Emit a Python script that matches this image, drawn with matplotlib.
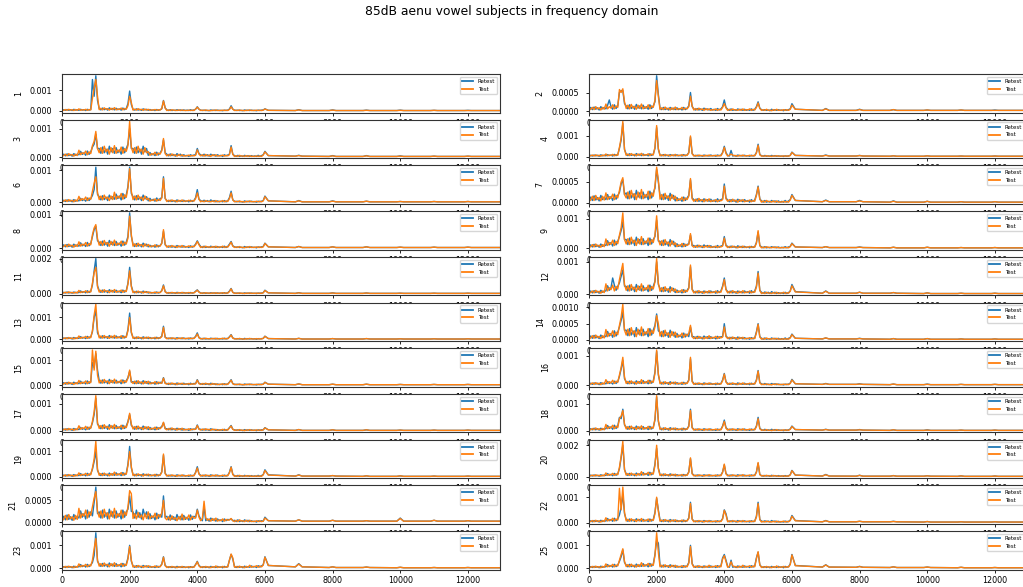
import matplotlib
matplotlib.use("Agg")
import matplotlib.pyplot as plt
from matplotlib.ticker import MultipleLocator
import numpy as np

TITLE = "85dB aenu vowel subjects in frequency domain"
SERIES_NAMES = ["Retest", "Test"]
XTICKS = [0, 2000, 4000, 6000, 8000, 10000, 12000]

# Frequency bins (Hz) shared by every spectrum
FREQ_HZ = [0, 50, 100, 150, 200, 250, 300, 350, 400, 450, 500, 550, 600, 650, 700, 750, 800, 850, 900, 950,
           1000, 1050, 1100, 1150, 1200, 1250, 1300, 1350, 1400, 1450, 1500, 1550, 1600, 1650, 1700, 1750, 1800, 1850, 1900, 1950,
           2000, 2050, 2100, 2150, 2200, 2250, 2300, 2350, 2400, 2450, 2500, 2550, 2600, 2650, 2700, 2750, 2800, 2850, 2900, 2950,
           3000, 3050, 3100, 3150, 3200, 3250, 3300, 3350, 3400, 3450, 3500, 3550, 3600, 3650, 3700, 3750, 3800, 3850, 3900, 3950,
           4000, 4050, 4100, 4150, 4200, 4250, 4300, 4350, 4400, 4450, 4500, 4550, 4600, 4650, 4700, 4750, 4800, 4850, 4900, 4950,
           5000, 5050, 5100, 5150, 5200, 5250, 5300, 5350, 5400, 5450, 5500, 5550, 5600, 5650, 5700, 5750, 5800, 5850, 5900, 5950,
           6000, 6100, 6900, 7000, 7100, 7900, 8000, 8100, 8900, 9000, 9100,
           9900, 10000, 10100, 10900, 11000, 11100, 11900, 12000, 12100, 13000]

# Spectral magnitudes in units of 1e-5
AMP_UNIT = 1e-5

S01_RETEST = [2, 6, 3, 7, 3, 6, 2, 8, 4, 6, 3, 8, 4, 6, 2, 8, 4, 7, 150, 70,
              168, 50, 12, 5, 14, 6, 11, 4, 15, 7, 12, 5, 13, 6, 10, 4, 14, 6, 12, 35,
              95, 30, 8, 4, 10, 4, 8, 3, 10, 5, 8, 3, 7, 3, 5, 2, 7, 3, 6, 10,
              50, 15, 5, 2, 6, 2, 4, 2, 6, 3, 5, 2, 5, 2, 4, 2, 6, 2, 5, 8,
              20, 8, 4, 2, 4, 2, 3, 1, 5, 2, 4, 2, 4, 2, 3, 1, 4, 2, 4, 9,
              25, 9, 4, 2, 4, 2, 3, 1, 5, 2, 4, 2, 4, 2, 3, 1, 4, 2, 4, 5,
              10, 3, 2, 6, 2, 2, 5, 2, 2, 4, 2, 2, 4, 2, 2, 3, 2, 2, 3, 2, 2]
S01_TEST = [3, 3, 7, 3, 8, 4, 6, 2, 7, 3, 10, 3, 6, 4, 8, 3, 7, 5, 60, 110,
            150, 70, 6, 13, 5, 15, 7, 11, 4, 13, 6, 16, 5, 10, 7, 14, 5, 12, 8, 25,
            70, 40, 4, 9, 4, 11, 5, 8, 3, 9, 4, 8, 3, 5, 4, 7, 3, 6, 4, 12,
            48, 14, 2, 5, 2, 6, 3, 4, 2, 5, 2, 5, 2, 3, 2, 4, 2, 4, 2, 9,
            18, 9, 2, 4, 2, 5, 2, 3, 1, 4, 2, 5, 2, 3, 2, 4, 2, 4, 2, 7,
            20, 8, 2, 4, 2, 5, 2, 3, 1, 4, 2, 5, 2, 3, 2, 4, 2, 4, 2, 4,
            9, 3, 2, 5, 2, 2, 4, 2, 2, 3, 2, 2, 3, 2, 2, 3, 2, 2, 2, 2, 2]

S02_RETEST = [2, 10, 4, 11, 5, 9, 3, 12, 6, 10, 6, 16, 30, 12, 5, 17, 7, 14, 50, 55,
              55, 20, 14, 6, 17, 7, 13, 5, 18, 8, 14, 6, 16, 7, 12, 5, 17, 7, 14, 25,
              95, 45, 8, 4, 10, 4, 8, 3, 10, 5, 8, 4, 9, 4, 7, 3, 10, 4, 8, 14,
              50, 12, 6, 3, 7, 3, 6, 2, 8, 4, 6, 3, 7, 3, 5, 2, 7, 3, 6, 12,
              30, 10, 5, 2, 6, 2, 4, 2, 6, 3, 5, 2, 5, 2, 4, 2, 6, 2, 5, 12,
              25, 8, 4, 2, 4, 2, 3, 1, 5, 2, 4, 2, 4, 2, 3, 1, 4, 2, 4, 6,
              20, 5, 2, 7, 2, 2, 5, 2, 2, 4, 2, 2, 3, 2, 2, 3, 2, 2, 3, 2, 2]
S02_TEST = [3, 5, 10, 4, 12, 6, 9, 3, 10, 5, 19, 6, 12, 8, 17, 6, 14, 10, 58, 50,
            60, 25, 7, 16, 6, 18, 8, 13, 5, 16, 7, 19, 6, 12, 8, 17, 6, 14, 10, 30,
            82, 40, 4, 9, 4, 11, 5, 8, 3, 9, 4, 11, 4, 7, 5, 10, 4, 8, 6, 12,
            40, 14, 3, 7, 3, 8, 4, 6, 2, 7, 3, 6, 2, 4, 3, 6, 2, 5, 3, 10,
            20, 9, 2, 5, 2, 6, 3, 4, 2, 5, 2, 6, 2, 4, 3, 6, 2, 5, 3, 10,
            22, 7, 2, 4, 2, 5, 2, 3, 1, 4, 2, 5, 2, 3, 2, 4, 2, 4, 2, 5,
            16, 5, 2, 6, 2, 2, 4, 2, 2, 4, 2, 2, 3, 2, 2, 3, 2, 2, 2, 2, 2]

S03_RETEST = [3, 10, 4, 11, 5, 9, 3, 12, 6, 10, 8, 20, 9, 15, 6, 21, 9, 18, 35, 45,
              80, 30, 30, 13, 35, 15, 28, 10, 38, 18, 30, 13, 33, 15, 25, 10, 35, 15, 30, 45,
              100, 30, 30, 13, 35, 15, 28, 10, 38, 18, 30, 6, 16, 7, 12, 5, 17, 7, 14, 25,
              60, 15, 10, 4, 11, 5, 9, 3, 12, 6, 10, 3, 8, 4, 6, 2, 8, 4, 7, 8,
              30, 12, 8, 4, 10, 4, 8, 3, 10, 5, 8, 3, 8, 4, 6, 2, 8, 4, 7, 10,
              40, 10, 5, 2, 6, 2, 4, 2, 6, 3, 5, 2, 5, 2, 4, 2, 6, 2, 5, 8,
              20, 5, 3, 6, 3, 2, 5, 2, 2, 5, 2, 2, 4, 2, 2, 3, 2, 2, 3, 2, 2]
S03_TEST = [4, 5, 10, 4, 12, 6, 9, 3, 10, 5, 24, 8, 15, 11, 21, 8, 18, 12, 40, 55,
            90, 30, 15, 33, 13, 38, 18, 28, 10, 33, 15, 40, 13, 25, 18, 35, 13, 30, 20, 40,
            125, 35, 15, 33, 13, 38, 18, 28, 10, 33, 15, 19, 6, 12, 8, 17, 6, 14, 10, 22,
            65, 12, 4, 9, 4, 11, 5, 8, 3, 9, 4, 8, 3, 5, 4, 7, 3, 6, 4, 6,
            25, 10, 4, 8, 3, 9, 4, 7, 2, 8, 4, 8, 3, 5, 4, 7, 3, 6, 4, 8,
            35, 9, 2, 5, 2, 6, 3, 4, 2, 5, 2, 5, 2, 3, 2, 4, 2, 4, 2, 7,
            18, 5, 3, 5, 3, 2, 4, 2, 2, 4, 2, 2, 3, 2, 2, 3, 2, 2, 3, 2, 2]

S04_RETEST = [3, 7, 3, 8, 4, 7, 2, 9, 4, 7, 4, 10, 5, 8, 3, 11, 5, 10, 40, 80,
              160, 35, 12, 5, 14, 6, 11, 4, 15, 7, 12, 5, 13, 6, 10, 4, 14, 6, 12, 40,
              140, 35, 8, 4, 10, 4, 8, 3, 10, 5, 8, 4, 9, 4, 7, 3, 10, 4, 8, 20,
              95, 15, 6, 3, 7, 3, 6, 2, 8, 4, 6, 3, 8, 4, 6, 2, 8, 4, 7, 20,
              50, 20, 6, 3, 30, 3, 6, 2, 8, 4, 6, 3, 7, 3, 5, 2, 7, 3, 6, 20,
              60, 10, 5, 2, 6, 2, 4, 2, 6, 3, 5, 2, 4, 2, 3, 1, 4, 2, 4, 6,
              22, 6, 3, 8, 3, 3, 6, 3, 2, 4, 2, 2, 4, 2, 2, 3, 2, 2, 3, 2, 2]
S04_TEST = [4, 4, 8, 3, 9, 4, 7, 2, 8, 4, 13, 4, 8, 6, 11, 4, 10, 6, 45, 90,
            170, 35, 6, 13, 5, 15, 7, 11, 4, 13, 6, 16, 5, 10, 7, 14, 5, 12, 8, 45,
            150, 40, 4, 9, 4, 11, 5, 8, 3, 9, 4, 11, 4, 7, 5, 10, 4, 8, 6, 18,
            100, 14, 3, 7, 3, 8, 4, 6, 2, 7, 3, 8, 3, 5, 4, 7, 3, 6, 4, 18,
            45, 15, 3, 7, 12, 8, 4, 6, 2, 7, 3, 8, 3, 5, 4, 7, 3, 6, 4, 18,
            55, 9, 2, 4, 2, 5, 2, 3, 1, 4, 2, 5, 2, 3, 2, 4, 2, 4, 2, 6,
            20, 6, 3, 6, 3, 3, 5, 3, 2, 4, 2, 2, 4, 2, 2, 3, 2, 2, 3, 2, 2]

S06_RETEST = [3, 7, 3, 8, 4, 7, 2, 9, 4, 7, 5, 13, 6, 10, 4, 14, 6, 12, 22, 40,
              110, 25, 18, 8, 21, 9, 17, 6, 23, 11, 18, 10, 26, 12, 20, 8, 28, 12, 24, 50,
              110, 28, 18, 8, 21, 9, 17, 6, 23, 11, 18, 5, 13, 6, 10, 4, 14, 6, 12, 15,
              80, 12, 6, 3, 7, 3, 6, 2, 8, 4, 6, 3, 7, 3, 5, 2, 7, 3, 6, 15,
              40, 10, 6, 3, 7, 3, 6, 2, 8, 4, 6, 2, 5, 2, 4, 2, 6, 2, 5, 15,
              35, 8, 4, 2, 4, 2, 3, 1, 5, 2, 4, 2, 4, 2, 3, 1, 4, 2, 4, 6,
              20, 5, 2, 6, 2, 2, 5, 2, 2, 4, 2, 2, 3, 2, 2, 3, 2, 2, 3, 2, 2]
S06_TEST = [4, 4, 8, 3, 9, 4, 7, 2, 8, 4, 19, 6, 12, 8, 17, 6, 14, 10, 35, 60,
            80, 30, 9, 20, 8, 23, 11, 17, 6, 20, 9, 32, 10, 20, 14, 28, 10, 24, 16, 45,
            105, 35, 9, 20, 8, 23, 11, 17, 6, 20, 9, 13, 4, 8, 6, 11, 4, 10, 6, 14,
            75, 14, 3, 7, 3, 8, 4, 6, 2, 7, 3, 8, 3, 5, 4, 7, 3, 6, 4, 12,
            30, 10, 2, 5, 2, 6, 3, 4, 2, 5, 2, 6, 2, 4, 3, 6, 2, 5, 3, 12,
            30, 8, 2, 4, 2, 5, 2, 3, 1, 4, 2, 5, 2, 3, 2, 4, 2, 4, 2, 5,
            18, 5, 2, 5, 2, 2, 4, 2, 2, 4, 2, 2, 3, 2, 2, 3, 2, 2, 3, 2, 2]

S07_RETEST = [3, 14, 6, 17, 7, 13, 5, 18, 8, 14, 8, 20, 9, 15, 6, 21, 9, 18, 25, 45,
              55, 20, 24, 10, 28, 12, 22, 8, 30, 14, 24, 10, 26, 12, 20, 8, 28, 12, 24, 35,
              80, 50, 18, 8, 21, 9, 17, 6, 23, 11, 18, 5, 13, 6, 10, 4, 14, 6, 12, 18,
              55, 12, 8, 4, 10, 4, 8, 3, 10, 5, 8, 4, 9, 4, 7, 3, 10, 4, 8, 10,
              45, 12, 7, 3, 8, 4, 7, 2, 9, 4, 7, 3, 8, 4, 6, 2, 8, 4, 7, 20,
              40, 10, 5, 2, 6, 2, 4, 2, 6, 3, 5, 2, 5, 2, 4, 2, 6, 2, 5, 8,
              20, 6, 3, 7, 3, 3, 6, 3, 2, 5, 2, 2, 4, 2, 2, 3, 2, 2, 3, 2, 2]
S07_TEST = [4, 7, 16, 6, 18, 8, 13, 5, 16, 7, 24, 8, 15, 11, 21, 8, 18, 12, 30, 50,
            60, 20, 12, 26, 10, 30, 14, 22, 8, 26, 12, 32, 10, 20, 14, 28, 10, 24, 16, 40,
            85, 55, 9, 20, 8, 23, 11, 17, 6, 20, 9, 16, 5, 10, 7, 14, 5, 12, 8, 16,
            58, 10, 4, 9, 4, 11, 5, 8, 3, 9, 4, 10, 3, 6, 4, 8, 3, 7, 5, 8,
            40, 10, 4, 8, 3, 9, 4, 7, 2, 8, 4, 8, 3, 5, 4, 7, 3, 6, 4, 18,
            38, 9, 2, 5, 2, 6, 3, 4, 2, 5, 2, 5, 2, 3, 2, 4, 2, 4, 2, 7,
            18, 6, 3, 6, 3, 3, 5, 3, 2, 4, 2, 2, 4, 2, 2, 3, 2, 2, 3, 2, 2]

S08_RETEST = [3, 10, 4, 11, 5, 9, 3, 12, 6, 10, 6, 16, 7, 12, 5, 17, 7, 14, 35, 55,
              65, 22, 18, 8, 21, 9, 17, 6, 23, 11, 18, 8, 20, 9, 15, 6, 21, 9, 18, 35,
              105, 35, 12, 5, 14, 6, 11, 4, 15, 7, 12, 4, 9, 4, 7, 3, 10, 4, 8, 15,
              50, 10, 6, 3, 7, 3, 6, 2, 8, 4, 6, 3, 7, 3, 5, 2, 7, 3, 6, 12,
              22, 12, 5, 2, 6, 2, 4, 2, 6, 3, 5, 2, 5, 2, 4, 2, 6, 2, 5, 12,
              20, 7, 4, 2, 4, 2, 3, 1, 5, 2, 4, 2, 4, 2, 3, 1, 4, 2, 4, 5,
              15, 4, 2, 5, 2, 2, 4, 2, 2, 4, 2, 2, 3, 2, 2, 3, 2, 2, 3, 2, 2]
S08_TEST = [4, 5, 10, 4, 12, 6, 9, 3, 10, 5, 19, 6, 12, 8, 17, 6, 14, 10, 40, 60,
            70, 28, 9, 20, 8, 23, 11, 17, 6, 20, 9, 24, 8, 15, 11, 21, 8, 18, 12, 30,
            95, 40, 6, 13, 5, 15, 7, 11, 4, 13, 6, 11, 4, 7, 5, 10, 4, 8, 6, 14,
            55, 12, 3, 7, 3, 8, 4, 6, 2, 7, 3, 8, 3, 5, 4, 7, 3, 6, 4, 10,
            20, 10, 2, 5, 2, 6, 3, 4, 2, 5, 2, 6, 2, 4, 3, 6, 2, 5, 3, 10,
            18, 6, 2, 4, 2, 5, 2, 3, 1, 4, 2, 5, 2, 3, 2, 4, 2, 4, 2, 4,
            14, 4, 2, 5, 2, 2, 4, 2, 2, 4, 2, 2, 3, 2, 2, 3, 2, 2, 3, 2, 2]

S09_RETEST = [3, 12, 5, 14, 6, 11, 4, 15, 7, 12, 10, 26, 12, 20, 8, 28, 12, 24, 40, 60,
              90, 30, 30, 13, 35, 15, 28, 10, 38, 18, 30, 13, 33, 15, 25, 10, 35, 15, 30, 40,
              95, 25, 24, 10, 28, 12, 22, 8, 30, 14, 24, 6, 16, 7, 12, 5, 17, 7, 14, 15,
              45, 10, 10, 4, 11, 5, 9, 3, 12, 6, 10, 4, 9, 4, 7, 3, 10, 4, 8, 10,
              40, 10, 7, 3, 8, 4, 7, 2, 9, 4, 7, 3, 7, 3, 5, 2, 7, 3, 6, 20,
              55, 10, 5, 2, 6, 2, 4, 2, 6, 3, 5, 2, 5, 2, 4, 2, 6, 2, 5, 7,
              18, 5, 3, 6, 3, 3, 5, 3, 2, 4, 2, 2, 4, 2, 2, 3, 2, 2, 3, 2, 2]
S09_TEST = [4, 6, 13, 5, 15, 7, 11, 4, 13, 6, 32, 10, 20, 14, 28, 10, 24, 16, 45, 70,
            120, 30, 15, 33, 13, 38, 18, 28, 10, 33, 15, 40, 13, 25, 18, 35, 13, 30, 20, 45,
            110, 30, 12, 26, 10, 30, 14, 22, 8, 26, 12, 19, 6, 12, 8, 17, 6, 14, 10, 14,
            50, 9, 4, 9, 4, 11, 5, 8, 3, 9, 4, 10, 3, 6, 4, 8, 3, 7, 5, 8,
            35, 9, 3, 7, 3, 8, 4, 6, 2, 7, 3, 8, 3, 5, 4, 7, 3, 6, 4, 18,
            60, 9, 2, 5, 2, 6, 3, 4, 2, 5, 2, 5, 2, 3, 2, 4, 2, 4, 2, 6,
            16, 5, 3, 6, 3, 3, 4, 3, 2, 4, 2, 2, 4, 2, 2, 3, 2, 2, 3, 2, 2]

S11_RETEST = [3, 8, 4, 10, 4, 8, 3, 10, 5, 8, 6, 16, 7, 12, 5, 17, 7, 14, 50, 130,
              200, 45, 18, 8, 21, 9, 17, 6, 23, 11, 18, 8, 20, 9, 15, 6, 21, 9, 18, 60,
              150, 45, 12, 5, 14, 6, 11, 4, 15, 7, 12, 4, 9, 4, 7, 3, 10, 4, 8, 18,
              50, 12, 6, 3, 7, 3, 6, 2, 8, 4, 6, 3, 7, 3, 5, 2, 7, 3, 6, 14,
              22, 10, 5, 2, 6, 2, 4, 2, 6, 3, 5, 2, 5, 2, 4, 2, 6, 2, 5, 15,
              30, 8, 4, 2, 4, 2, 3, 1, 5, 2, 4, 2, 4, 2, 3, 1, 4, 2, 4, 6,
              20, 5, 2, 6, 2, 2, 5, 2, 2, 4, 2, 2, 3, 2, 2, 3, 2, 2, 3, 2, 2]
S11_TEST = [4, 4, 9, 4, 11, 5, 8, 3, 9, 4, 19, 6, 12, 8, 17, 6, 14, 10, 60, 120,
            150, 40, 9, 20, 8, 23, 11, 17, 6, 20, 9, 24, 8, 15, 11, 21, 8, 18, 12, 55,
            130, 40, 6, 13, 5, 15, 7, 11, 4, 13, 6, 11, 4, 7, 5, 10, 4, 8, 6, 16,
            45, 11, 3, 7, 3, 8, 4, 6, 2, 7, 3, 8, 3, 5, 4, 7, 3, 6, 4, 12,
            20, 9, 2, 5, 2, 6, 3, 4, 2, 5, 2, 6, 2, 4, 3, 6, 2, 5, 3, 12,
            28, 7, 2, 4, 2, 5, 2, 3, 1, 4, 2, 5, 2, 3, 2, 4, 2, 4, 2, 5,
            18, 5, 2, 5, 2, 2, 4, 2, 2, 4, 2, 2, 3, 2, 2, 3, 2, 2, 3, 2, 2]

S12_RETEST = [3, 10, 4, 11, 5, 9, 3, 12, 6, 10, 10, 26, 12, 20, 50, 28, 12, 24, 35, 55,
              75, 25, 24, 10, 28, 12, 22, 8, 30, 14, 24, 10, 26, 12, 20, 8, 28, 12, 24, 40,
              100, 30, 18, 8, 21, 9, 17, 6, 23, 11, 18, 5, 13, 6, 10, 4, 14, 6, 12, 20,
              85, 15, 8, 4, 10, 4, 8, 3, 10, 5, 8, 4, 10, 5, 8, 3, 11, 5, 10, 25,
              50, 15, 8, 4, 10, 4, 8, 3, 10, 5, 8, 4, 10, 5, 8, 3, 11, 5, 10, 25,
              70, 12, 6, 3, 7, 3, 6, 2, 8, 4, 6, 2, 5, 2, 4, 2, 6, 2, 5, 10,
              30, 8, 3, 10, 3, 3, 6, 3, 3, 5, 3, 2, 4, 2, 2, 3, 2, 2, 3, 2, 2]
S12_TEST = [4, 5, 10, 4, 12, 6, 9, 3, 10, 5, 32, 10, 20, 14, 28, 10, 24, 16, 45, 70,
            95, 30, 12, 26, 10, 30, 14, 22, 8, 26, 12, 32, 10, 20, 14, 28, 10, 24, 16, 38,
            110, 35, 9, 20, 8, 23, 11, 17, 6, 20, 9, 16, 5, 10, 7, 14, 5, 12, 8, 18,
            90, 14, 4, 9, 4, 11, 5, 8, 3, 9, 4, 11, 4, 7, 5, 10, 4, 8, 6, 22,
            45, 14, 4, 9, 4, 11, 5, 8, 3, 9, 4, 11, 4, 7, 5, 10, 4, 8, 6, 22,
            65, 11, 2, 5, 2, 6, 3, 4, 2, 5, 2, 6, 2, 4, 3, 6, 2, 5, 3, 9,
            26, 7, 3, 9, 3, 3, 6, 3, 3, 5, 3, 2, 4, 2, 2, 3, 2, 2, 3, 2, 2]

S13_RETEST = [3, 7, 3, 8, 4, 7, 2, 9, 4, 7, 5, 13, 6, 10, 4, 14, 6, 12, 35, 100,
              130, 30, 14, 6, 17, 7, 13, 5, 18, 8, 14, 6, 16, 7, 12, 5, 17, 7, 14, 45,
              120, 30, 10, 4, 11, 5, 9, 3, 12, 6, 10, 4, 9, 4, 7, 3, 10, 4, 8, 15,
              60, 10, 6, 3, 7, 3, 6, 2, 8, 4, 6, 3, 7, 3, 5, 2, 7, 3, 6, 14,
              30, 8, 5, 2, 6, 2, 4, 2, 6, 3, 5, 2, 5, 2, 4, 2, 6, 2, 5, 12,
              22, 7, 4, 2, 4, 2, 3, 1, 5, 2, 4, 2, 4, 2, 3, 1, 4, 2, 4, 5,
              15, 4, 2, 5, 2, 2, 4, 2, 2, 4, 2, 2, 3, 2, 2, 3, 2, 2, 3, 2, 2]
S13_TEST = [4, 4, 8, 3, 9, 4, 7, 2, 8, 4, 16, 5, 10, 7, 14, 5, 12, 8, 40, 110,
            160, 45, 7, 16, 6, 18, 8, 13, 5, 16, 7, 19, 6, 12, 8, 17, 6, 14, 10, 40,
            100, 35, 5, 10, 4, 12, 6, 9, 3, 10, 5, 11, 4, 7, 5, 10, 4, 8, 6, 13,
            55, 10, 3, 7, 3, 8, 4, 6, 2, 7, 3, 8, 3, 5, 4, 7, 3, 6, 4, 12,
            25, 8, 2, 5, 2, 6, 3, 4, 2, 5, 2, 6, 2, 4, 3, 6, 2, 5, 3, 10,
            20, 6, 2, 4, 2, 5, 2, 3, 1, 4, 2, 5, 2, 3, 2, 4, 2, 4, 2, 5,
            14, 4, 2, 5, 2, 2, 4, 2, 2, 4, 2, 2, 3, 2, 2, 3, 2, 2, 3, 2, 2]

S14_RETEST = [3, 12, 5, 14, 6, 11, 4, 15, 7, 12, 10, 26, 12, 20, 8, 28, 12, 24, 40, 60,
              85, 30, 30, 13, 35, 15, 28, 10, 38, 18, 30, 13, 33, 15, 25, 10, 35, 15, 30, 45,
              80, 28, 24, 10, 28, 12, 22, 8, 30, 14, 24, 8, 20, 9, 15, 6, 21, 9, 18, 10,
              40, 10, 10, 4, 11, 5, 9, 3, 12, 6, 10, 4, 10, 5, 8, 3, 11, 5, 10, 10,
              50, 12, 7, 3, 8, 4, 7, 2, 9, 4, 7, 3, 7, 3, 5, 2, 7, 3, 6, 25,
              50, 10, 5, 2, 6, 2, 4, 2, 6, 3, 5, 2, 5, 2, 4, 2, 6, 2, 5, 7,
              18, 5, 3, 6, 3, 3, 5, 3, 2, 4, 2, 2, 4, 2, 2, 3, 2, 2, 3, 2, 2]
S14_TEST = [4, 6, 13, 5, 15, 7, 11, 4, 13, 6, 32, 10, 20, 14, 28, 10, 24, 16, 45, 70,
            110, 30, 15, 33, 13, 38, 18, 28, 10, 33, 15, 40, 13, 25, 18, 35, 13, 30, 20, 40,
            75, 50, 12, 26, 10, 30, 14, 22, 8, 26, 12, 24, 8, 15, 11, 21, 8, 18, 12, 20,
            45, 10, 4, 9, 4, 11, 5, 8, 3, 9, 4, 13, 4, 8, 6, 11, 4, 10, 6, 9,
            40, 10, 4, 8, 3, 9, 4, 7, 2, 8, 4, 8, 3, 5, 4, 7, 3, 6, 4, 22,
            48, 9, 2, 5, 2, 6, 3, 4, 2, 5, 2, 5, 2, 3, 2, 4, 2, 4, 2, 6,
            16, 5, 3, 6, 3, 3, 4, 3, 2, 4, 2, 2, 4, 2, 2, 3, 2, 2, 3, 2, 2]

S15_RETEST = [3, 10, 4, 11, 5, 9, 3, 12, 6, 10, 6, 16, 7, 12, 5, 17, 7, 14, 90, 70,
              125, 60, 18, 8, 21, 9, 17, 6, 23, 11, 18, 8, 20, 9, 15, 6, 21, 9, 18, 30,
              55, 12, 14, 6, 17, 7, 13, 5, 18, 8, 14, 5, 13, 6, 10, 4, 14, 6, 12, 8,
              30, 8, 7, 3, 8, 4, 7, 2, 9, 4, 7, 3, 8, 4, 6, 2, 8, 4, 7, 6,
              22, 7, 6, 3, 7, 3, 6, 2, 8, 4, 6, 2, 5, 2, 4, 2, 6, 2, 5, 12,
              22, 6, 4, 2, 4, 2, 3, 1, 5, 2, 4, 2, 4, 2, 3, 1, 4, 2, 4, 4,
              12, 4, 2, 5, 2, 2, 4, 2, 2, 4, 2, 2, 3, 2, 2, 3, 2, 2, 3, 2, 2]
S15_TEST = [4, 5, 10, 4, 12, 6, 9, 3, 10, 5, 19, 6, 12, 8, 17, 6, 14, 10, 140, 60,
            135, 40, 9, 20, 8, 23, 11, 17, 6, 20, 9, 24, 8, 15, 11, 21, 8, 18, 12, 28,
            60, 14, 7, 16, 6, 18, 8, 13, 5, 16, 7, 16, 5, 10, 7, 14, 5, 12, 8, 8,
            28, 7, 4, 8, 3, 9, 4, 7, 2, 8, 4, 8, 3, 5, 4, 7, 3, 6, 4, 6,
            20, 6, 3, 7, 3, 8, 4, 6, 2, 7, 3, 6, 2, 4, 3, 6, 2, 5, 3, 11,
            20, 6, 2, 4, 2, 5, 2, 3, 1, 4, 2, 5, 2, 3, 2, 4, 2, 4, 2, 4,
            11, 4, 2, 5, 2, 2, 4, 2, 2, 4, 2, 2, 3, 2, 2, 3, 2, 2, 3, 2, 2]

S16_RETEST = [3, 7, 3, 8, 4, 7, 2, 9, 4, 7, 5, 13, 6, 10, 4, 14, 6, 12, 30, 55,
              85, 22, 12, 5, 14, 6, 11, 4, 15, 7, 12, 6, 16, 7, 12, 5, 17, 7, 14, 45,
              115, 35, 10, 4, 11, 5, 9, 3, 12, 6, 10, 4, 9, 4, 7, 3, 10, 4, 8, 18,
              90, 14, 6, 3, 7, 3, 6, 2, 8, 4, 6, 3, 7, 3, 5, 2, 7, 3, 6, 18,
              40, 12, 6, 3, 7, 3, 6, 2, 8, 4, 6, 3, 7, 3, 5, 2, 7, 3, 6, 18,
              50, 9, 5, 2, 6, 2, 4, 2, 6, 3, 5, 2, 4, 2, 3, 1, 4, 2, 4, 7,
              20, 5, 3, 6, 3, 3, 5, 3, 2, 4, 2, 2, 4, 2, 2, 3, 2, 2, 3, 2, 2]
S16_TEST = [4, 4, 8, 3, 9, 4, 7, 2, 8, 4, 19, 6, 12, 8, 17, 6, 14, 10, 35, 60,
            95, 28, 6, 13, 5, 15, 7, 11, 4, 13, 6, 19, 6, 12, 8, 17, 6, 14, 10, 40,
            120, 40, 5, 10, 4, 12, 6, 9, 3, 10, 5, 11, 4, 7, 5, 10, 4, 8, 6, 16,
            95, 12, 3, 7, 3, 8, 4, 6, 2, 7, 3, 8, 3, 5, 4, 7, 3, 6, 4, 15,
            38, 11, 3, 7, 3, 8, 4, 6, 2, 7, 3, 8, 3, 5, 4, 7, 3, 6, 4, 16,
            48, 8, 2, 4, 2, 5, 2, 3, 1, 4, 2, 5, 2, 3, 2, 4, 2, 4, 2, 6,
            18, 5, 3, 5, 3, 3, 4, 3, 2, 4, 2, 2, 3, 2, 2, 3, 2, 2, 3, 2, 2]

S17_RETEST = [3, 7, 3, 8, 4, 7, 2, 9, 4, 7, 5, 13, 6, 10, 4, 14, 6, 12, 30, 60,
              120, 25, 18, 8, 21, 9, 17, 6, 23, 11, 18, 8, 20, 9, 15, 6, 21, 9, 18, 35,
              60, 20, 14, 6, 17, 7, 13, 5, 18, 8, 14, 5, 13, 6, 10, 4, 14, 6, 12, 16,
              30, 9, 8, 4, 10, 4, 8, 3, 10, 5, 8, 3, 8, 4, 6, 2, 8, 4, 7, 6,
              22, 7, 6, 3, 7, 3, 6, 2, 8, 4, 6, 2, 5, 2, 4, 2, 6, 2, 5, 12,
              20, 6, 4, 2, 4, 2, 3, 1, 5, 2, 4, 2, 4, 2, 3, 1, 4, 2, 4, 4,
              12, 4, 2, 5, 2, 2, 4, 2, 2, 4, 2, 2, 3, 2, 2, 3, 2, 2, 3, 2, 2]
S17_TEST = [4, 4, 8, 3, 9, 4, 7, 2, 8, 4, 19, 6, 12, 8, 17, 6, 14, 10, 35, 70,
            130, 30, 9, 20, 8, 23, 11, 17, 6, 20, 9, 24, 8, 15, 11, 21, 8, 18, 12, 32,
            65, 25, 7, 16, 6, 18, 8, 13, 5, 16, 7, 16, 5, 10, 7, 14, 5, 12, 8, 14,
            32, 8, 4, 9, 4, 11, 5, 8, 3, 9, 4, 10, 3, 6, 4, 8, 3, 7, 5, 6,
            20, 6, 3, 7, 3, 8, 4, 6, 2, 7, 3, 6, 2, 4, 3, 6, 2, 5, 3, 11,
            18, 6, 2, 4, 2, 5, 2, 3, 1, 4, 2, 5, 2, 3, 2, 4, 2, 4, 2, 4,
            11, 4, 2, 5, 2, 2, 4, 2, 2, 4, 2, 2, 3, 2, 2, 3, 2, 2, 3, 2, 2]

S18_RETEST = [3, 8, 4, 10, 4, 8, 3, 10, 5, 8, 8, 20, 9, 15, 6, 21, 9, 18, 50, 45,
              80, 22, 14, 6, 17, 7, 13, 5, 18, 8, 14, 6, 16, 7, 12, 5, 17, 7, 14, 40,
              125, 35, 10, 4, 11, 5, 9, 3, 12, 6, 10, 4, 9, 4, 7, 3, 10, 4, 8, 18,
              80, 12, 6, 3, 7, 3, 6, 2, 8, 4, 6, 3, 7, 3, 5, 2, 7, 3, 6, 18,
              40, 12, 6, 3, 7, 3, 6, 2, 8, 4, 6, 3, 7, 3, 5, 2, 7, 3, 6, 18,
              50, 9, 5, 2, 6, 2, 4, 2, 6, 3, 5, 2, 4, 2, 3, 1, 4, 2, 4, 7,
              18, 5, 3, 6, 3, 3, 5, 3, 2, 4, 2, 2, 4, 2, 2, 3, 2, 2, 3, 2, 2]
S18_TEST = [4, 4, 9, 4, 11, 5, 8, 3, 9, 4, 24, 8, 15, 11, 21, 8, 18, 12, 45, 55,
            75, 25, 7, 16, 6, 18, 8, 13, 5, 16, 7, 19, 6, 12, 8, 17, 6, 14, 10, 45,
            130, 40, 5, 10, 4, 12, 6, 9, 3, 10, 5, 11, 4, 7, 5, 10, 4, 8, 6, 16,
            75, 12, 3, 7, 3, 8, 4, 6, 2, 7, 3, 8, 3, 5, 4, 7, 3, 6, 4, 16,
            35, 10, 3, 7, 3, 8, 4, 6, 2, 7, 3, 8, 3, 5, 4, 7, 3, 6, 4, 16,
            45, 8, 2, 4, 2, 5, 2, 3, 1, 4, 2, 5, 2, 3, 2, 4, 2, 4, 2, 6,
            16, 5, 3, 5, 3, 3, 4, 3, 2, 4, 2, 2, 3, 2, 2, 3, 2, 2, 3, 2, 2]

S19_RETEST = [3, 7, 3, 8, 4, 7, 2, 9, 4, 7, 5, 13, 6, 10, 4, 14, 6, 12, 30, 60,
              100, 25, 12, 5, 14, 6, 11, 4, 15, 7, 12, 6, 16, 7, 12, 5, 17, 7, 14, 50,
              120, 35, 10, 4, 11, 5, 9, 3, 12, 6, 10, 4, 9, 4, 7, 3, 10, 4, 8, 20,
              85, 14, 6, 3, 7, 3, 6, 2, 8, 4, 6, 3, 7, 3, 5, 2, 7, 3, 6, 18,
              40, 12, 6, 3, 7, 3, 6, 2, 8, 4, 6, 3, 7, 3, 5, 2, 7, 3, 6, 18,
              40, 10, 5, 2, 6, 2, 4, 2, 6, 3, 5, 2, 5, 2, 4, 2, 6, 2, 5, 9,
              28, 8, 3, 8, 3, 3, 5, 3, 2, 4, 2, 2, 4, 2, 2, 3, 2, 2, 3, 2, 2]
S19_TEST = [4, 4, 8, 3, 9, 4, 7, 2, 8, 4, 16, 5, 10, 7, 14, 5, 12, 8, 35, 70,
            140, 30, 6, 13, 5, 15, 7, 11, 4, 13, 6, 19, 6, 12, 8, 17, 6, 14, 10, 45,
            100, 40, 5, 10, 4, 12, 6, 9, 3, 10, 5, 11, 4, 7, 5, 10, 4, 8, 6, 18,
            90, 13, 3, 7, 3, 8, 4, 6, 2, 7, 3, 8, 3, 5, 4, 7, 3, 6, 4, 16,
            35, 11, 3, 7, 3, 8, 4, 6, 2, 7, 3, 8, 3, 5, 4, 7, 3, 6, 4, 16,
            38, 9, 2, 5, 2, 6, 3, 4, 2, 5, 2, 5, 2, 3, 2, 4, 2, 4, 2, 8,
            25, 7, 3, 7, 3, 3, 5, 3, 2, 4, 2, 2, 4, 2, 2, 3, 2, 2, 3, 2, 2]

S20_RETEST = [3, 10, 4, 11, 5, 9, 3, 12, 6, 10, 8, 20, 9, 15, 6, 21, 9, 18, 50, 120,
              200, 45, 18, 8, 21, 9, 17, 6, 23, 11, 18, 10, 26, 12, 20, 8, 28, 12, 24, 80,
              180, 55, 14, 6, 17, 7, 13, 5, 18, 8, 14, 5, 13, 6, 10, 4, 14, 6, 12, 30,
              115, 20, 10, 4, 11, 5, 9, 3, 12, 6, 10, 4, 10, 5, 8, 3, 11, 5, 10, 30,
              75, 20, 10, 4, 11, 5, 9, 3, 12, 6, 10, 4, 10, 5, 8, 3, 11, 5, 10, 30,
              85, 14, 7, 3, 8, 4, 7, 2, 9, 4, 7, 3, 7, 3, 5, 2, 7, 3, 6, 12,
              40, 10, 4, 14, 4, 3, 9, 3, 3, 7, 3, 3, 6, 3, 2, 5, 2, 2, 4, 2, 2]
S20_TEST = [4, 5, 10, 4, 12, 6, 9, 3, 10, 5, 24, 8, 15, 11, 21, 8, 18, 12, 60, 130,
            225, 45, 9, 20, 8, 23, 11, 17, 6, 20, 9, 32, 10, 20, 14, 28, 10, 24, 16, 70,
            200, 50, 7, 16, 6, 18, 8, 13, 5, 16, 7, 16, 5, 10, 7, 14, 5, 12, 8, 28,
            120, 18, 5, 10, 4, 12, 6, 9, 3, 10, 5, 13, 4, 8, 6, 11, 4, 10, 6, 28,
            80, 18, 5, 10, 4, 12, 6, 9, 3, 10, 5, 13, 4, 8, 6, 11, 4, 10, 6, 28,
            90, 13, 4, 8, 3, 9, 4, 7, 2, 8, 4, 6, 2, 4, 3, 6, 2, 5, 3, 11,
            38, 10, 4, 12, 4, 3, 8, 3, 3, 6, 3, 3, 5, 3, 2, 5, 2, 2, 4, 2, 2]

S21_RETEST = [3, 14, 6, 17, 7, 13, 5, 18, 8, 14, 10, 26, 12, 20, 8, 28, 12, 24, 15, 45,
              80, 20, 24, 10, 28, 12, 22, 8, 30, 14, 24, 10, 26, 12, 20, 8, 28, 12, 24, 30,
              60, 25, 24, 10, 28, 12, 22, 8, 30, 14, 24, 8, 20, 9, 15, 6, 21, 9, 18, 12,
              60, 12, 14, 6, 17, 7, 13, 5, 18, 8, 14, 6, 16, 7, 12, 5, 17, 7, 14, 12,
              30, 15, 8, 4, 35, 4, 8, 3, 10, 5, 8, 3, 8, 4, 6, 2, 8, 4, 7, 6,
              8, 4, 5, 2, 6, 2, 4, 2, 6, 3, 5, 2, 4, 2, 3, 1, 4, 2, 4, 3,
              12, 4, 3, 6, 3, 3, 5, 3, 3, 4, 3, 3, 10, 3, 3, 5, 3, 3, 4, 3, 3]
S21_TEST = [4, 7, 16, 6, 18, 8, 13, 5, 16, 7, 32, 10, 20, 14, 28, 10, 24, 16, 35, 55,
            70, 25, 12, 26, 10, 30, 14, 22, 8, 26, 12, 32, 10, 20, 14, 28, 10, 24, 16, 35,
            72, 65, 9, 20, 8, 23, 11, 17, 6, 20, 9, 24, 8, 15, 11, 21, 8, 18, 12, 22,
            50, 10, 6, 13, 5, 15, 7, 11, 4, 13, 6, 19, 6, 12, 8, 17, 6, 14, 10, 10,
            28, 12, 4, 9, 48, 11, 5, 8, 3, 9, 4, 10, 3, 6, 4, 8, 3, 7, 5, 6,
            9, 4, 2, 5, 2, 6, 3, 4, 2, 5, 2, 5, 2, 3, 2, 4, 2, 4, 2, 3,
            10, 4, 3, 6, 3, 3, 5, 3, 3, 4, 3, 3, 9, 3, 3, 5, 3, 3, 4, 3, 3]

S22_RETEST = [3, 7, 3, 8, 4, 7, 2, 9, 4, 7, 6, 16, 7, 12, 5, 17, 7, 14, 30, 60,
              110, 35, 12, 5, 14, 6, 11, 4, 15, 7, 12, 5, 13, 6, 10, 4, 14, 6, 12, 40,
              95, 50, 10, 4, 11, 5, 9, 3, 12, 6, 10, 4, 9, 4, 7, 3, 10, 4, 8, 18,
              80, 14, 6, 3, 7, 3, 6, 2, 8, 4, 6, 3, 7, 3, 5, 2, 7, 3, 6, 16,
              50, 35, 6, 3, 7, 3, 6, 2, 8, 4, 6, 3, 7, 3, 5, 2, 7, 3, 6, 25,
              80, 12, 6, 3, 7, 3, 6, 2, 8, 4, 6, 2, 5, 2, 4, 2, 6, 2, 5, 9,
              28, 8, 3, 8, 3, 3, 5, 3, 3, 5, 3, 2, 4, 2, 2, 3, 2, 2, 3, 2, 2]
S22_TEST = [4, 4, 8, 3, 9, 4, 7, 2, 8, 4, 19, 6, 12, 8, 17, 6, 14, 10, 135, 50,
            140, 40, 6, 13, 5, 15, 7, 11, 4, 13, 6, 16, 5, 10, 7, 14, 5, 12, 8, 35,
            100, 45, 5, 10, 4, 12, 6, 9, 3, 10, 5, 11, 4, 7, 5, 10, 4, 8, 6, 16,
            75, 13, 3, 7, 3, 8, 4, 6, 2, 7, 3, 8, 3, 5, 4, 7, 3, 6, 4, 14,
            48, 30, 3, 7, 3, 8, 4, 6, 2, 7, 3, 8, 3, 5, 4, 7, 3, 6, 4, 22,
            75, 11, 2, 5, 2, 6, 3, 4, 2, 5, 2, 6, 2, 4, 3, 6, 2, 5, 3, 8,
            25, 7, 3, 7, 3, 3, 5, 3, 3, 4, 3, 2, 4, 2, 2, 3, 2, 2, 3, 2, 2]

S23_RETEST = [3, 7, 3, 8, 4, 7, 2, 9, 4, 7, 6, 16, 7, 12, 5, 17, 7, 14, 25, 55,
              155, 30, 18, 8, 21, 9, 17, 6, 23, 11, 18, 8, 20, 9, 15, 6, 21, 9, 18, 45,
              100, 30, 10, 4, 11, 5, 9, 3, 12, 6, 10, 4, 9, 4, 7, 3, 10, 4, 8, 18,
              50, 12, 6, 3, 7, 3, 6, 2, 8, 4, 6, 3, 7, 3, 5, 2, 7, 3, 6, 16,
              30, 12, 6, 3, 7, 3, 6, 2, 8, 4, 6, 3, 8, 4, 6, 2, 8, 4, 7, 35,
              60, 40, 7, 3, 8, 4, 7, 2, 9, 4, 7, 4, 10, 5, 8, 3, 11, 5, 10, 15,
              50, 12, 6, 20, 6, 3, 6, 3, 3, 5, 3, 2, 4, 2, 2, 3, 2, 2, 3, 2, 2]
S23_TEST = [4, 4, 8, 3, 9, 4, 7, 2, 8, 4, 19, 6, 12, 8, 17, 6, 14, 10, 35, 85,
            130, 35, 9, 20, 8, 23, 11, 17, 6, 20, 9, 24, 8, 15, 11, 21, 8, 18, 12, 40,
            95, 35, 5, 10, 4, 12, 6, 9, 3, 10, 5, 11, 4, 7, 5, 10, 4, 8, 6, 16,
            48, 11, 3, 7, 3, 8, 4, 6, 2, 7, 3, 8, 3, 5, 4, 7, 3, 6, 4, 15,
            28, 10, 3, 7, 3, 8, 4, 6, 2, 7, 3, 10, 3, 6, 4, 8, 3, 7, 5, 35,
            62, 45, 4, 8, 3, 9, 4, 7, 2, 8, 4, 13, 4, 8, 6, 11, 4, 10, 6, 14,
            48, 12, 6, 18, 6, 3, 6, 3, 3, 5, 3, 2, 4, 2, 2, 3, 2, 2, 3, 2, 2]

S25_RETEST = [3, 7, 3, 8, 4, 7, 2, 9, 4, 7, 6, 16, 7, 12, 5, 17, 7, 14, 30, 50,
              80, 25, 14, 6, 17, 7, 13, 5, 18, 8, 14, 8, 20, 9, 15, 6, 21, 9, 18, 60,
              120, 110, 12, 5, 14, 6, 11, 4, 15, 7, 12, 4, 10, 5, 8, 3, 11, 5, 10, 25,
              100, 20, 8, 4, 10, 4, 8, 3, 10, 5, 8, 4, 10, 5, 8, 3, 11, 5, 10, 45,
              60, 35, 8, 4, 35, 4, 8, 3, 10, 5, 8, 4, 10, 5, 8, 3, 11, 5, 10, 45,
              70, 15, 6, 3, 7, 3, 6, 2, 8, 4, 6, 3, 8, 4, 6, 2, 8, 4, 7, 18,
              60, 12, 5, 15, 5, 4, 8, 4, 3, 6, 3, 3, 5, 3, 2, 4, 2, 2, 3, 2, 2]
S25_TEST = [4, 4, 8, 3, 9, 4, 7, 2, 8, 4, 19, 6, 12, 8, 17, 6, 14, 10, 35, 60,
            85, 30, 7, 16, 6, 18, 8, 13, 5, 16, 7, 24, 8, 15, 11, 21, 8, 18, 12, 55,
            155, 70, 6, 13, 5, 15, 7, 11, 4, 13, 6, 13, 4, 8, 6, 11, 4, 10, 6, 22,
            95, 18, 4, 9, 4, 11, 5, 8, 3, 9, 4, 13, 4, 8, 6, 11, 4, 10, 6, 40,
            55, 30, 4, 9, 28, 11, 5, 8, 3, 9, 4, 13, 4, 8, 6, 11, 4, 10, 6, 42,
            72, 14, 3, 7, 3, 8, 4, 6, 2, 7, 3, 10, 3, 6, 4, 8, 3, 7, 5, 16,
            58, 11, 5, 14, 5, 4, 7, 4, 3, 6, 3, 3, 5, 3, 2, 4, 2, 2, 3, 2, 2]

SUBJECTS = [1, 2, 3, 4, 6, 7, 8, 9, 11, 12, 13,
            14, 15, 16, 17, 18, 19, 20, 21, 22, 23, 25]
# spacing of the y-axis ticks for each subject's panel
Y_TICK_STEP = [0.001, 0.0005, 0.001, 0.001, 0.001, 0.0005, 0.001, 0.001,
               0.002, 0.001, 0.001, 0.0005, 0.001, 0.001, 0.001, 0.001,
               0.001, 0.002, 0.0005, 0.001, 0.001, 0.001]
RETEST = [S01_RETEST, S02_RETEST, S03_RETEST, S04_RETEST, S06_RETEST,
          S07_RETEST, S08_RETEST, S09_RETEST, S11_RETEST, S12_RETEST,
          S13_RETEST, S14_RETEST, S15_RETEST, S16_RETEST, S17_RETEST,
          S18_RETEST, S19_RETEST, S20_RETEST, S21_RETEST, S22_RETEST,
          S23_RETEST, S25_RETEST]
TEST = [S01_TEST, S02_TEST, S03_TEST, S04_TEST, S06_TEST,
        S07_TEST, S08_TEST, S09_TEST, S11_TEST, S12_TEST,
        S13_TEST, S14_TEST, S15_TEST, S16_TEST, S17_TEST,
        S18_TEST, S19_TEST, S20_TEST, S21_TEST, S22_TEST,
        S23_TEST, S25_TEST]

for s, a, b in zip(SUBJECTS, RETEST, TEST):
    assert len(a) == len(FREQ_HZ) and len(b) == len(FREQ_HZ), (s, len(a), len(b))

# ---- layout (pixels of a 1023 x 587 canvas) ----
W, H = 1023, 587
COL_LEFT = [62, 589]
AX_W = 438
ROW_TOP0, ROW_STEP, AX_H = 74, 45.7, 38.5
TICK_FS = 5.8

fig = plt.figure(figsize=(W / 100, H / 100), dpi=100)
fig.suptitle(TITLE, fontsize=8.9, y=1 - 12 / H, va="center")

freq = np.array(FREQ_HZ)
for i, subj in enumerate(SUBJECTS):
    row, col = divmod(i, 2)
    top = ROW_TOP0 + row * ROW_STEP
    ax = fig.add_axes([COL_LEFT[col] / W, 1 - (top + AX_H) / H,
                       AX_W / W, AX_H / H])
    ax.plot(freq, np.array(RETEST[i]) * AMP_UNIT, color="#1f77b4",
            lw=1.0, label=SERIES_NAMES[0])
    ax.plot(freq, np.array(TEST[i]) * AMP_UNIT, color="#ff7f0e",
            lw=1.0, label=SERIES_NAMES[1])
    ax.set_xlim(0, 12950)
    ax.set_xticks(XTICKS)
    ax.yaxis.set_major_locator(MultipleLocator(Y_TICK_STEP[i]))
    ax.set_ylabel(str(subj), fontsize=TICK_FS, labelpad=5)
    ax.tick_params(labelsize=TICK_FS, length=2.5, width=0.6)
    ax.tick_params(axis="x", pad=2)
    ax.tick_params(axis="y", pad=4.5)
    for sp in ax.spines.values():
        sp.set_linewidth(0.8)
        sp.set_color("#333333")
    leg = ax.legend(loc="upper right", fontsize=4, handlelength=2.0,
                    borderpad=0.4, labelspacing=0.5)
    for ln in leg.get_lines():
        ln.set_linewidth(1.3)

fig.savefig("out.png", dpi=100)
